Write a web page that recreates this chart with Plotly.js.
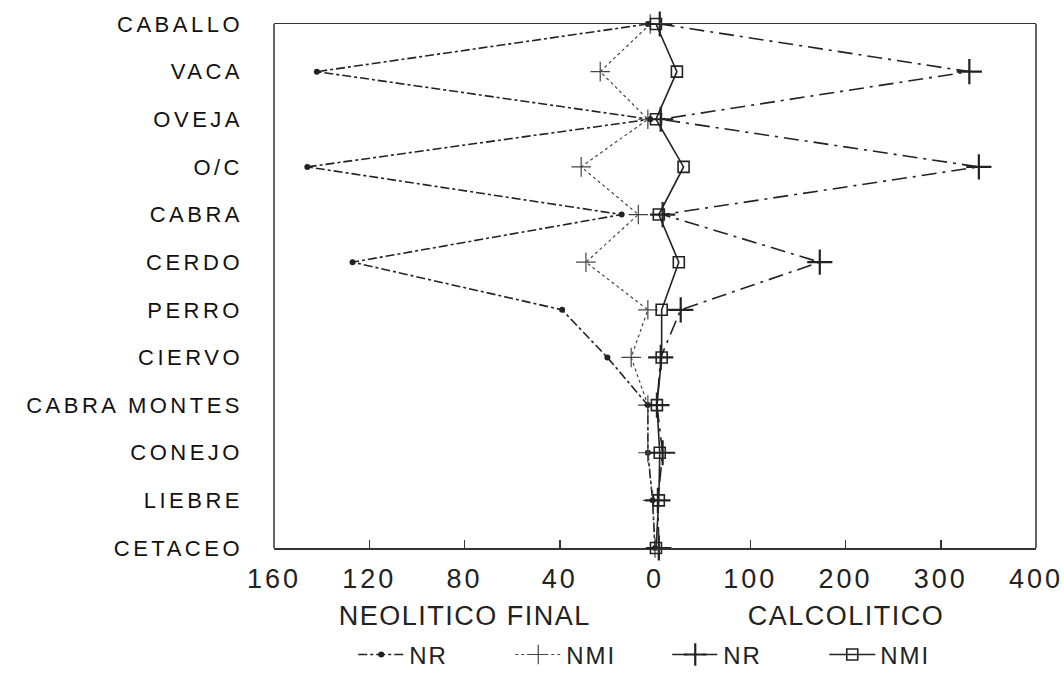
<!DOCTYPE html>
<html><head><meta charset="utf-8">
<script src="https://cdn.plot.ly/plotly-3.0.1.min.js"></script>
<style>
html,body{margin:0;padding:0;background:#fff}
#chart{width:1064px;height:673px}
#chart .ytick text{letter-spacing:3.5px}
#chart .xtick text, #chart .x2tick text{letter-spacing:3px}
#chart .legendtext{letter-spacing:2px}
#chart .annotation-text{letter-spacing:1.5px}
</style></head><body><div id="chart"></div>
<script>
const categories = ['CABALLO','VACA','OVEJA','O/C','CABRA','CERDO','PERRO','CIERVO','CABRA MONTES','CONEJO','LIEBRE','CETACEO'];
// Neolitico Final (left half)
const neoNR  = [3, 142, 2, 146, 14, 127, 39, 20, 3, 3, 1, 0];
const neoNMI = [2, 23, 3, 31, 7, 29, 3, 10, 3, 3, 1, 0];
// Calcolitico (right half)
const calcNR  = [5, 330, 6, 340, 8, 173, 27, 6, 2, 8, 3, 4];
const calcNMI = [1, 23, 1, 30, 4, 25, 7, 7, 2, 5, 4, 1];
const leftTicks = [160, 120, 80, 40, 0];
const rightTicks = [100, 200, 300, 400];

const ink = '#222';
const traces = [
  {type:'scatter', mode:'lines+markers', name:'NR', x:neoNR, y:categories, xaxis:'x', yaxis:'y',
   line:{color:ink, width:1.6, dash:'dashdot'}, marker:{symbol:'circle', size:6, color:ink}, cliponaxis:false},
  {type:'scatter', mode:'lines+markers', name:'NMI', x:neoNMI, y:categories, xaxis:'x', yaxis:'y',
   line:{color:'#444', width:1.2, dash:'dot'}, marker:{symbol:'cross-thin-open', size:14, color:'#444', line:{width:1.2, color:'#444'}}, cliponaxis:false},
  {type:'scatter', mode:'lines+markers', name:'NR', x:calcNR, y:categories, xaxis:'x2', yaxis:'y',
   line:{color:ink, width:1.6, dash:'longdashdot'}, marker:{symbol:'cross-thin-open', size:18, color:ink, line:{width:2.2, color:ink}}, cliponaxis:false},
  {type:'scatter', mode:'lines+markers', name:'NMI', x:calcNMI, y:categories, xaxis:'x2', yaxis:'y',
   line:{color:ink, width:1.6, dash:'solid'}, marker:{symbol:'square-open', size:11, color:ink, line:{width:1.6, color:ink}}, cliponaxis:false}
];

const tickFont = {family:'Liberation Sans, Arial, sans-serif', size:27, color:ink};
const layout = {
  width:1064, height:673,
  margin:{l:274, r:28, t:24, b:125, autoexpand:false},
  paper_bgcolor:'#fff', plot_bgcolor:'#fff',
  showlegend:true,
  xaxis:{domain:[0,0.5], range:[160,0], tickmode:'array', tickvals:leftTicks, ticktext:leftTicks.map(String),
    ticks:'inside', ticklen:8, tickwidth:1.5, tickcolor:'#333', showgrid:false, zeroline:false,
    showline:true, mirror:true, linecolor:'#333', linewidth:1.5, tickfont:tickFont, ticklabelstandoff:6, anchor:'y'},
  xaxis2:{domain:[0.5,1], range:[0,400], tickmode:'array', tickvals:rightTicks, ticktext:rightTicks.map(String),
    ticks:'inside', ticklen:8, tickwidth:1.5, tickcolor:'#333', showgrid:false, zeroline:false,
    showline:true, mirror:true, linecolor:'#333', linewidth:1.5, tickfont:tickFont, ticklabelstandoff:6, anchor:'y'},
  yaxis:{type:'category', categoryorder:'array', categoryarray:categories, range:[11,0],
    showgrid:false, zeroline:false, ticks:'', showline:false, anchor:'x',
    tickfont:{family:'Liberation Sans, Arial, sans-serif', size:22, color:'#111'}, ticklabelstandoff:30},
  shapes:[
    {type:'line', xref:'paper', yref:'paper', x0:0, x1:0, y0:0, y1:1, line:{color:'#333', width:1.5}},
    {type:'line', xref:'paper', yref:'paper', x0:1, x1:1, y0:0, y1:1, line:{color:'#333', width:1.5}}
  ],
  annotations:[
    {text:'NEOLITICO FINAL', xref:'x', x:80, yref:'paper', y:-0.13, yanchor:'middle', showarrow:false,
     font:{family:'Liberation Sans, Arial, sans-serif', size:27, color:ink}},
    {text:'CALCOLITICO', xref:'x2', x:200, yref:'paper', y:-0.13, yanchor:'middle', showarrow:false,
     font:{family:'Liberation Sans, Arial, sans-serif', size:27, color:ink}}
  ],
  legend:{orientation:'h', x:0.104, xanchor:'left', y:-0.204, yanchor:'middle',
    entrywidth:96, entrywidthmode:'pixels', itemwidth:46,
    font:{family:'Liberation Sans, Arial, sans-serif', size:24, color:ink}, bgcolor:'rgba(0,0,0,0)'}
};
Plotly.newPlot('chart', traces, layout, {displayModeBar:false, staticPlot:true});
</script></body></html>
